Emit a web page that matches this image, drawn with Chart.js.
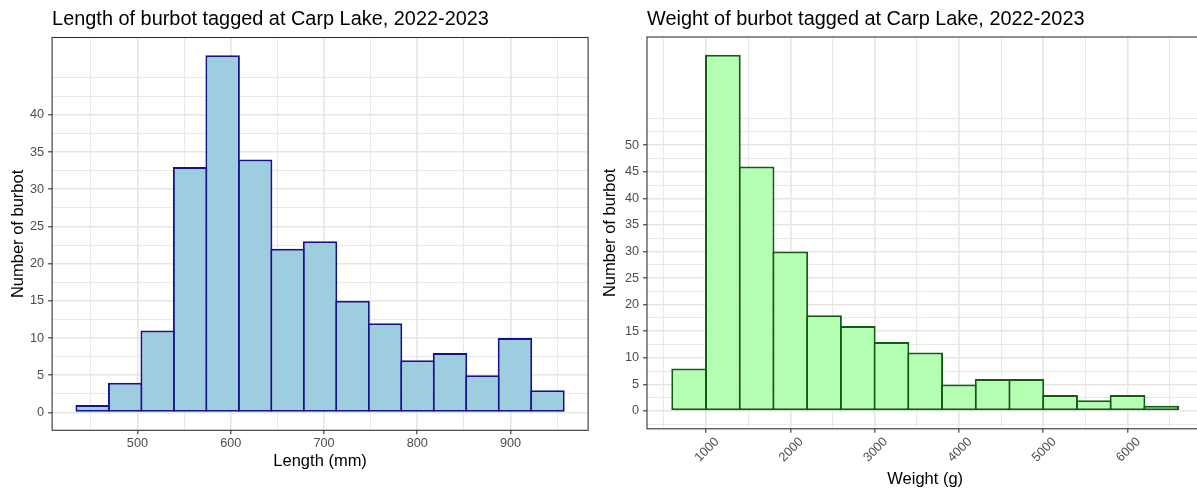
<!DOCTYPE html>
<html>
<head>
<meta charset="utf-8">
<script src="https://cdn.jsdelivr.net/npm/chart.js@4.4.1/dist/chart.umd.min.js"></script>
<style>
  html, body { margin: 0; padding: 0; background: #ffffff; overflow: hidden; }
  #wrap { position: relative; width: 1197px; height: 491px; overflow: hidden; background: #ffffff; }
  .panel { position: absolute; top: 0; height: 491px; }
  #lengthPanel { left: 0; width: 598px; }
  #weightPanel { left: 598px; width: 616px; }
</style>
</head>
<body>
<div id="wrap">
  <div class="panel" id="lengthPanel"><canvas id="lengthChart"></canvas></div>
  <div class="panel" id="weightPanel"><canvas id="weightChart"></canvas></div>
</div>
<script>
// ---- Length histogram (mm) ----
const lengthTitle = 'Length of burbot tagged at Carp Lake, 2022-2023';
const lengthXLabel = 'Length (mm)';
const lengthBinEdges = [434.6, 469.4, 504.3, 539.1, 573.9, 608.8, 643.6, 678.4, 713.2, 748.1, 782.9, 817.7, 852.6, 887.4, 922.2, 957.1];
const lengthCounts = [1, 4, 11, 33, 48, 34, 22, 23, 15, 12, 7, 8, 5, 10, 3];
const lengthXTicks = [500, 600, 700, 800, 900];
const lengthYTicks = [0, 5, 10, 15, 20, 25, 30, 35, 40];

// ---- Weight histogram (g) ----
const weightTitle = 'Weight of burbot tagged at Carp Lake, 2022-2023';
const weightXLabel = 'Weight (g)';
const weightBinEdges = [600, 1000, 1400, 1800, 2200, 2600, 3000, 3400, 3800, 4200, 4600, 5000, 5400, 5800, 6200, 6600];
const weightCounts = [8, 67, 46, 30, 18, 16, 13, 11, 5, 6, 6, 3, 2, 3, 1];
const weightXTicks = [1000, 2000, 3000, 4000, 5000, 6000];
const weightYTicks = [0, 5, 10, 15, 20, 25, 30, 35, 40, 45, 50];

const yLabel = 'Number of burbot';

Chart.defaults.font.family = '"Liberation Sans", Arial, Helvetica, sans-serif';
Chart.defaults.color = '#4D4D4D';

const GRID = '#E6E6E6';
const INK = '#333333';

// Axis limits with a 5% expansion on each side of the data range
function expand(lo, hi) {
  const pad = (hi - lo) * 0.05;
  return [lo - pad, hi + pad];
}

// Major breaks plus minor breaks halfway between them (extended one step past each end)
function gridValues(breaks, lo, hi) {
  const step = breaks[1] - breaks[0];
  const b = [breaks[0] - step, ...breaks, breaks[breaks.length - 1] + step];
  const vals = [];
  for (let i = 0; i < b.length - 1; i++) {
    vals.push(b[i], (b[i] + b[i + 1]) / 2);
  }
  vals.push(b[b.length - 1]);
  return vals.filter(v => v >= lo && v <= hi);
}

// Panel title and surrounding border
const panelFrame = {
  id: 'panelFrame',
  afterDraw(chart, args, opts) {
    const { ctx, chartArea: a } = chart;
    ctx.save();
    ctx.strokeStyle = INK;
    ctx.lineWidth = 1.1;
    ctx.strokeRect(a.left, a.top, a.right - a.left, a.bottom - a.top);
    ctx.fillStyle = '#000000';
    ctx.font = '19.9px "Liberation Sans", Arial, sans-serif';
    ctx.textAlign = 'left';
    ctx.textBaseline = 'alphabetic';
    ctx.fillText(opts.text, a.left, opts.baseline);
    ctx.restore();
  }
};

function histogram(canvasId, cfg) {
  const [xMin, xMax] = expand(cfg.edges[0], cfg.edges[cfg.edges.length - 1]);
  const [yMin, yMax] = expand(0, Math.max(...cfg.counts));
  const xGrid = gridValues(cfg.xTicks, xMin, xMax);
  const yGrid = gridValues(cfg.yTicks, yMin, yMax);
  const xMajor = v => cfg.xTicks.includes(v);
  const yMajor = v => cfg.yTicks.includes(v);

  const points = cfg.counts.map((c, i) => ({ x: (cfg.edges[i] + cfg.edges[i + 1]) / 2, y: c }));

  return new Chart(document.getElementById(canvasId), {
    type: 'bar',
    data: {
      datasets: [{
        data: points,
        backgroundColor: cfg.fill,
        borderColor: cfg.stroke,
        borderWidth: 2,
        borderSkipped: false,
        barPercentage: cfg.barPct,
        categoryPercentage: 1
      }]
    },
    options: {
      responsive: true,
      maintainAspectRatio: false,
      devicePixelRatio: 1,
      animation: false,
      events: [],
      layout: { padding: cfg.padding },
      plugins: {
        legend: { display: false },
        tooltip: { enabled: false },
        panelFrame: { text: cfg.title, baseline: 25 }
      },
      scales: {
        x: {
          type: 'linear',
          min: xMin,
          max: xMax,
          offset: false,
          afterBuildTicks: s => { s.ticks = xGrid.map(v => ({ value: v })); },
          afterFit: s => { s.height = cfg.xAxisHeight; },
          grid: {
            offset: false,
            color: GRID,
            lineWidth: c => (c.tick && xMajor(c.tick.value)) ? 1.6 : 0.9,
            drawTicks: true,
            tickLength: 4,
            tickWidth: 1.1,
            tickColor: c => (c.tick && xMajor(c.tick.value)) ? INK : 'rgba(0,0,0,0)'
          },
          border: { display: false },
          ticks: {
            autoSkip: false,
            minRotation: cfg.xRotation,
            maxRotation: cfg.xRotation,
            labelOffset: cfg.xLabelOffset,
            padding: cfg.xTickPad,
            color: '#4D4D4D',
            font: { size: 12.7 },
            callback: v => xMajor(v) ? String(v) : ''
          },
          title: {
            display: true,
            text: cfg.xLabel,
            color: '#000000',
            font: { size: 16.5 },
            padding: { top: 0, bottom: cfg.xTitlePad }
          }
        },
        y: {
          type: 'linear',
          min: yMin,
          max: yMax,
          afterBuildTicks: s => { s.ticks = yGrid.map(v => ({ value: v })); },
          afterFit: s => { s.width = cfg.yAxisWidth; },
          grid: {
            color: GRID,
            lineWidth: c => (c.tick && yMajor(c.tick.value)) ? 1.6 : 0.9,
            drawTicks: true,
            tickLength: 4,
            tickWidth: 1.1,
            tickColor: c => (c.tick && yMajor(c.tick.value)) ? INK : 'rgba(0,0,0,0)'
          },
          border: { display: false },
          ticks: {
            autoSkip: false,
            padding: 4,
            color: '#4D4D4D',
            font: { size: 12.7 },
            callback: v => yMajor(v) ? String(v) : ''
          },
          title: {
            display: true,
            text: yLabel,
            color: '#000000',
            font: { size: 16.5 },
            padding: { top: cfg.yTitlePad, bottom: 0 }
          }
        }
      }
    },
    plugins: [panelFrame]
  });
}

histogram('lengthChart', {
  title: lengthTitle,
  xLabel: lengthXLabel,
  edges: lengthBinEdges,
  counts: lengthCounts,
  xTicks: lengthXTicks,
  yTicks: lengthYTicks,
  fill: '#9ECDE0',
  stroke: '#14148A',
  barPct: 1.062,
  padding: { left: 0, right: 9.9, top: 37.5, bottom: 0 },
  yAxisWidth: 52.1,
  xAxisHeight: 60.7,
  xRotation: 0,
  xLabelOffset: 0,
  xTickPad: 1.5,
  xTitlePad: 20,
  yTitlePad: 8.2
});

histogram('weightChart', {
  title: weightTitle,
  xLabel: weightXLabel,
  edges: weightBinEdges,
  counts: weightCounts,
  xTicks: weightXTicks,
  yTicks: weightYTicks,
  fill: '#B4FEB4',
  stroke: '#125C12',
  barPct: 1.059,
  padding: { left: 0, right: 10.6, top: 37, bottom: 0 },
  yAxisWidth: 49,
  xAxisHeight: 62.2,
  xRotation: 45,
  xLabelOffset: 11,
  xTickPad: 1.6,
  xTitlePad: 2.1,
  yTitlePad: 2.5
});
</script>
</body>
</html>
